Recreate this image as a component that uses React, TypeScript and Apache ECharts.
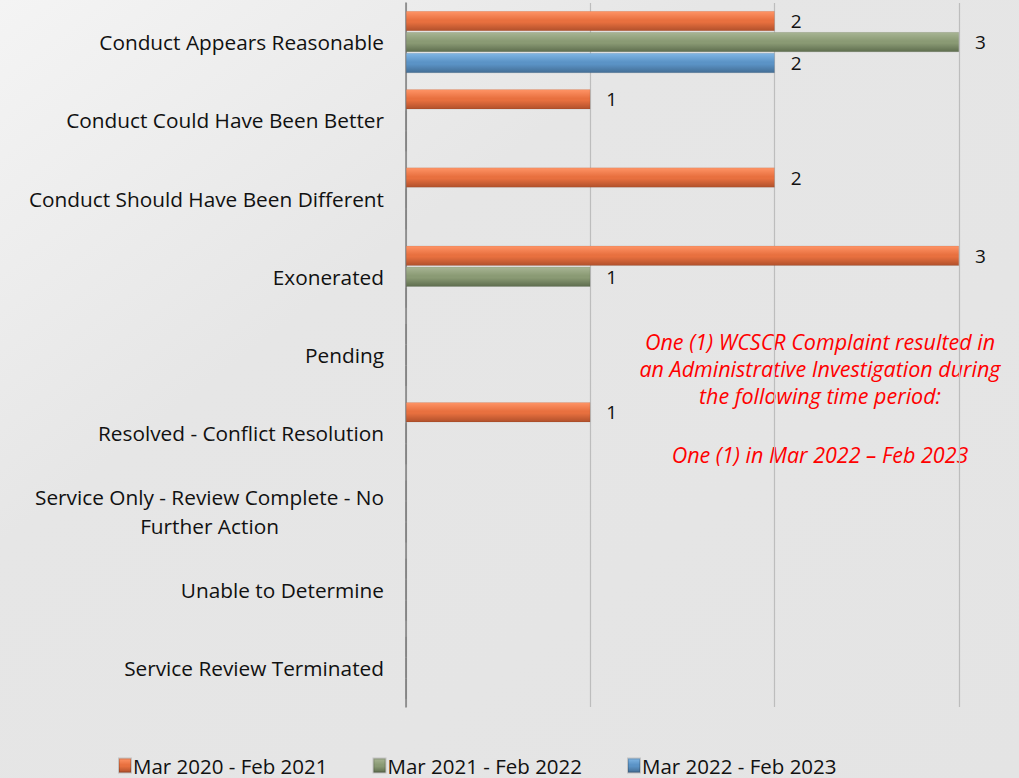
import React, { useEffect, useRef } from "react";
import * as echarts from "echarts";

const categories = [
  "Conduct Appears Reasonable",
  "Conduct Could Have Been Better",
  "Conduct Should Have Been Different",
  "Exonerated",
  "Pending",
  "Resolved - Conflict Resolution",
  "Service Only - Review Complete - No\nFurther Action",
  "Unable to Determine",
  "Service Review Terminated",
];
const seriesNames = ["Mar 2020 - Feb 2021", "Mar 2021 - Feb 2022", "Mar 2022 - Feb 2023"];
const values2020 = [2, 1, 2, 3, 0, 1, 0, 0, 0];
const values2021 = [3, 0, 0, 1, 0, 0, 0, 0, 0];
const values2022 = [2, 0, 0, 0, 0, 0, 0, 0, 0];
const noteLines = [
  "One (1) WCSCR Complaint resulted in",
  "an Administrative Investigation during",
  "the following time period:",
  "",
  "One (1) in Mar 2022 – Feb 2023",
];

const FONT = "'Open Sans', Lato, sans-serif";

function grad(top: string, mid: string, bottom: string) {
  return new echarts.graphic.LinearGradient(0, 0, 0, 1, [
    { offset: 0, color: top },
    { offset: 0.45, color: mid },
    { offset: 0.55, color: mid },
    { offset: 1, color: bottom },
  ]);
}

export default function App() {
  const ref = useRef<HTMLDivElement>(null);
  useEffect(() => {
    if (!ref.current) return;
    const chart = echarts.init(ref.current, undefined, { renderer: "svg" });
    const colors = [
      grad("#ff9466", "#e8703f", "#b0502b"),
      grad("#a8b594", "#8a9a74", "#5e6d4e"),
      grad("#80b6e4", "#5b93c6", "#436d94"),
    ];
    const data = [values2020, values2021, values2022];
    const label = {
      show: true,
      position: "right",
      distance: 16,
      fontSize: 19,
      fontFamily: FONT,
      color: "#111",
      formatter: (p: any) => (p.value ? String(p.value) : ""),
    };
    const LF = 20.8;
    const noteY = [341, 368, 395, 0, 454];
    chart.setOption({
      animation: false,
      backgroundColor: new echarts.graphic.LinearGradient(0, 0, 1, 1, [
        { offset: 0, color: "#f4f4f4" },
        { offset: 0.35, color: "#e6e6e6" },
        { offset: 1, color: "#e4e4e4" },
      ]),
      grid: { left: 406, right: 60, top: 3, bottom: 71 },
      xAxis: {
        type: "value",
        min: 0,
        max: 3,
        interval: 1,
        axisLabel: { show: false },
        axisLine: { show: false },
        axisTick: { show: false },
        splitLine: { show: true, lineStyle: { color: "#bdbdbd", width: 1.2 } },
      },
      yAxis: {
        type: "category",
        inverse: true,
        data: categories,
        axisTick: { show: false },
        axisLine: { show: true, lineStyle: { color: "#808080", width: 1.5 } },
        axisLabel: {
          margin: 22,
          fontSize: LF,
          fontFamily: FONT,
          color: "#111",
          formatter: (v: string) => {
            if (v.indexOf("\n") >= 0) {
              const parts = v.split("\n");
              return "{a|" + parts[0] + "}\n{b|" + parts[1] + "}";
            }
            return v;
          },
          rich: {
            a: { fontSize: LF, fontFamily: FONT, color: "#111", lineHeight: 29 },
            b: { fontSize: LF, fontFamily: FONT, color: "#111", lineHeight: 29, align: "center" },
          },
        },
      },
      legend: {
        left: 118,
        top: 755,
        padding: 0,
        itemWidth: 12,
        itemHeight: 14,
        itemGap: 45,
        icon: "rect",
        textStyle: { fontSize: 20.5, lineHeight: 21, fontFamily: FONT, color: "#111", padding: [0, 0, 0, -3] },
        data: seriesNames,
      },
      series: seriesNames.map((name, i) => ({
        name,
        type: "bar",
        data: data[i],
        barWidth: 20,
        barGap: "5%",
        itemStyle: { color: colors[i], borderColor: "rgba(0,0,0,0.15)", borderWidth: 0.5 },
        label,
      })),
      graphic: noteLines
        .map((t, i) => ({ t, y: noteY[i] }))
        .filter((d) => d.t)
        .map((d) => ({
          type: "text",
          x: 820,
          y: d.y,
          style: {
            text: d.t,
            align: "center",
            verticalAlign: "middle",
            fill: "#ff0000",
            fontSize: 21.5,
            fontStyle: "italic",
            fontFamily: FONT,
          },
        })),
    });
    return () => chart.dispose();
  }, []);
  return <div ref={ref} style={{ position: "fixed", left: 0, top: 0, width: 1019, height: 778 }} />;
}
